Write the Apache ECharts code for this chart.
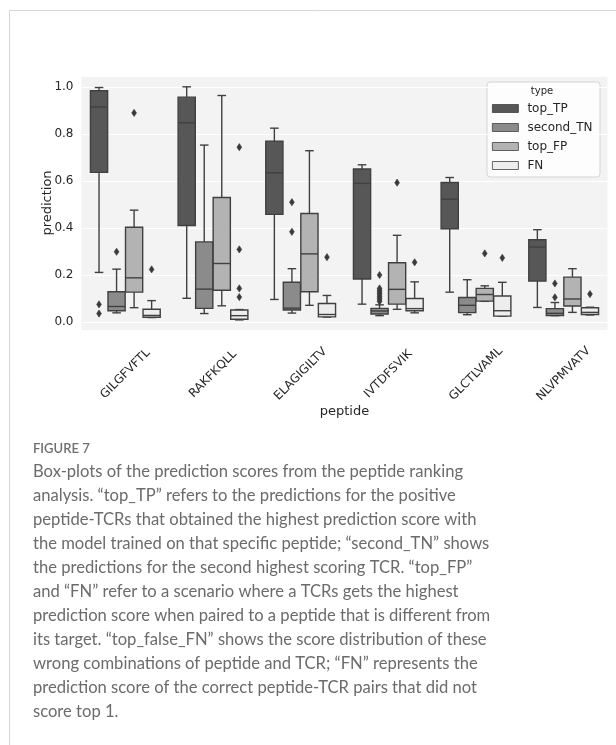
<!DOCTYPE html>
<html>
<head>
<meta charset="utf-8">
<title>Peptide ranking box-plots</title>
<script src="https://cdn.jsdelivr.net/npm/echarts@6/dist/echarts.min.js"></script>
<style>
  html, body { margin: 0; padding: 0; background: #ffffff; }
  #chart { width: 616px; height: 745px; }
</style>
</head>
<body>
<div id="chart"></div>
<script>
// Peptides on the x axis
const peptides = ['GILGFVFTL', 'RAKFKQLL', 'ELAGIGILTV', 'IVTDFSVIK', 'GLCTLVAML', 'NLVPMVATV'];

// Score types (hue), in drawing order
const types = ['top_TP', 'second_TN', 'top_FP', 'FN'];

// Box summaries per peptide: [lower whisker, Q1, median, Q3, upper whisker]
const topTP = [
  [0.210, 0.636, 0.914, 0.983, 0.997],
  [0.100, 0.410, 0.847, 0.956, 1.000],
  [0.095, 0.457, 0.634, 0.769, 0.824],
  [0.075, 0.182, 0.589, 0.650, 0.668],
  [0.126, 0.396, 0.522, 0.593, 0.614],
  [0.061, 0.173, 0.318, 0.349, 0.392]
];
const secondTN = [
  [0.038, 0.047, 0.065, 0.128, 0.224],
  [0.035, 0.057, 0.139, 0.340, 0.752],
  [0.037, 0.050, 0.058, 0.168, 0.226],
  [0.026, 0.033, 0.046, 0.057, 0.072],
  [0.030, 0.039, 0.070, 0.103, 0.179],
  [0.026, 0.027, 0.036, 0.056, 0.082]
];
const topFP = [
  [0.060, 0.126, 0.187, 0.402, 0.475],
  [0.068, 0.134, 0.248, 0.529, 0.963],
  [0.070, 0.128, 0.289, 0.461, 0.728],
  [0.053, 0.075, 0.138, 0.251, 0.368],
  [0.087, 0.088, 0.116, 0.142, 0.153],
  [0.040, 0.067, 0.097, 0.190, 0.226]
];
const fnBoxes = [
  [0.018, 0.019, 0.027, 0.053, 0.090],
  [0.008, 0.011, 0.026, 0.050, 0.052],
  [0.020, 0.021, 0.031, 0.078, 0.112],
  [0.038, 0.047, 0.056, 0.099, 0.170],
  [0.024, 0.024, 0.047, 0.110, 0.168],
  [0.029, 0.031, 0.040, 0.060, 0.062]
];

// Outliers per type: [peptide index, prediction]
const topTPOutliers = [[0, 0.074], [0, 0.035]];
const secondTNOutliers = [
  [0, 0.298],
  [2, 0.509], [2, 0.383],
  [3, 0.199], [3, 0.142], [3, 0.135], [3, 0.128], [3, 0.121], [3, 0.114],
  [3, 0.107], [3, 0.100], [3, 0.093], [3, 0.086],
  [5, 0.163], [5, 0.104]
];
const topFPOutliers = [[0, 0.889], [3, 0.592], [4, 0.291]];
const fnOutliers = [
  [0, 0.223],
  [1, 0.743], [1, 0.308], [1, 0.142], [1, 0.105],
  [2, 0.275],
  [3, 0.253],
  [4, 0.272],
  [5, 0.118]
];

// Y ticks shown on the axis
const yTicks = [0.0, 0.2, 0.4, 0.6, 0.8, 1.0];

// Caption
const figureLabel = 'FIGURE 7';
const captionLines = [
  'Box-plots of the prediction scores from the peptide ranking',
  'analysis. \u201ctop_TP\u201d refers to the predictions for the positive',
  'peptide-TCRs that obtained the highest prediction score with',
  'the model trained on that specific peptide; \u201csecond_TN\u201d shows',
  'the predictions for the second highest scoring TCR. \u201ctop_FP\u201d',
  'and \u201cFN\u201d refer to a scenario where a TCRs gets the highest',
  'prediction score when paired to a peptide that is different from',
  'its target. \u201ctop_false_FN\u201d shows the score distribution of these',
  'wrong combinations of peptide and TCR; \u201cFN\u201d represents the',
  'prediction score of the correct peptide-TCR pairs that did not',
  'score top 1.'
];

// ---- styling ----
const fills = ['#575757', '#8b8b8b', '#b3b3b3', '#ededed'];
const EDGE = '#404040';
const LW = 1.4;
const GROUP_WIDTH = 0.8;
const TEXT = '#262626';
const FONT = 'DejaVu Sans';

function boxRenderer(k) {
  return function (params, api) {
    const cat = api.value(0);
    const band = api.size([1, 0])[0];
    const slot = band * GROUP_WIDTH / types.length;
    const w = slot * 0.98;
    const cx = api.coord([cat, 0])[0] + (k - (types.length - 1) / 2) * slot;
    const py = i => api.coord([cat, api.value(i)])[1];
    const lo = py(1), q1 = py(2), md = py(3), q3 = py(4), hi = py(5);
    const ln = (x1, y1, x2, y2) => ({
      type: 'line', shape: { x1, y1, x2, y2 },
      style: { stroke: EDGE, lineWidth: LW }
    });
    return {
      type: 'group',
      children: [
        ln(cx, q3, cx, hi),
        ln(cx, q1, cx, lo),
        ln(cx - w / 4, hi, cx + w / 4, hi),
        ln(cx - w / 4, lo, cx + w / 4, lo),
        {
          type: 'rect',
          shape: { x: cx - w / 2, y: q3, width: w, height: q1 - q3 },
          style: { fill: fills[k], stroke: EDGE, lineWidth: LW }
        },
        ln(cx - w / 2, md, cx + w / 2, md)
      ]
    };
  };
}

function outlierRenderer(k) {
  return function (params, api) {
    const cat = api.value(0);
    const band = api.size([1, 0])[0];
    const slot = band * GROUP_WIDTH / types.length;
    const p = api.coord([cat, api.value(1)]);
    const cx = p[0] + (k - (types.length - 1) / 2) * slot;
    const cy = p[1];
    return {
      type: 'polygon',
      shape: { points: [[cx, cy - 3.6], [cx + 2.4, cy], [cx, cy + 3.6], [cx - 2.4, cy]] },
      style: { fill: '#3a3a3a', stroke: '#3a3a3a', lineWidth: 0.6 }
    };
  };
}

const boxData = [topTP, secondTN, topFP, fnBoxes];
const outlierData = [topTPOutliers, secondTNOutliers, topFPOutliers, fnOutliers];

const series = [];
types.forEach((name, k) => {
  series.push({
    name: name,
    type: 'custom',
    renderItem: boxRenderer(k),
    itemStyle: { color: fills[k], borderColor: EDGE, borderWidth: 1 },
    encode: { x: 0, y: [1, 2, 3, 4, 5] },
    data: boxData[k].map((b, i) => [i].concat(b)),
    silent: true
  });
});
types.forEach((name, k) => {
  series.push({
    name: name + ' outliers',
    type: 'custom',
    renderItem: outlierRenderer(k),
    encode: { x: 0, y: 1 },
    data: outlierData[k],
    silent: true
  });
});

const chart = echarts.init(document.getElementById('chart'), null, { renderer: 'canvas' });

const captionGraphics = [
  {
    type: 'text', left: 33, top: 442,
    style: { text: figureLabel, font: '600 13px Lato', fill: '#6f6f6f' }
  }
].concat(captionLines.map((line, i) => ({
  type: 'text', left: 33, top: 463 + i * 24,
  style: { text: line, font: '16.6px Lato', fill: '#6b6b6b' }
})));

chart.setOption({
  animation: false,
  backgroundColor: '#ffffff',
  grid: {
    left: 81.5, right: 8.5, top: 76, bottom: 415,
    show: true, backgroundColor: '#f3f3f3', borderWidth: 0
  },
  xAxis: {
    type: 'category',
    data: peptides,
    boundaryGap: true,
    axisLine: { show: false },
    axisTick: { show: false },
    splitLine: { show: false },
    axisLabel: {
      rotate: 45, interval: 0, margin: 44,
      align: 'center', verticalAlign: 'middle',
      fontFamily: FONT, fontSize: 12, color: TEXT
    },
    name: 'peptide',
    nameLocation: 'middle',
    nameGap: 75,
    nameMoveOverlap: false,
    nameTextStyle: { fontFamily: FONT, fontSize: 13, color: TEXT }
  },
  yAxis: {
    type: 'value',
    min: -0.035, max: 1.046,
    splitNumber: 5,
    axisLine: { show: false },
    axisTick: { show: false },
    splitLine: { show: true, lineStyle: { color: '#ffffff', width: 1.2 } },
    axisLabel: {
      margin: 8, fontFamily: FONT, fontSize: 12, color: TEXT,
      showMinLabel: false, showMaxLabel: false,
      formatter: v => {
        const t = yTicks.find(y => Math.abs(y - v) < 1e-6);
        return t === undefined ? '' : t.toFixed(1);
      }
    },
    name: 'prediction',
    nameLocation: 'middle',
    nameGap: 27,
    nameMoveOverlap: false,
    nameTextStyle: { fontFamily: FONT, fontSize: 13, color: TEXT }
  },
  legend: {
    data: types,
    orient: 'vertical',
    left: 487, top: 94,
    icon: 'rect',
    itemWidth: 26, itemHeight: 8,
    itemGap: 0,
    itemStyle: { borderColor: EDGE, borderWidth: 0.8 },
    textStyle: {
      fontFamily: FONT, fontSize: 12, color: TEXT,
      lineHeight: 19, padding: [0, 0, 0, 4]
    },
    selectedMode: false
  },
  graphic: [
    {
      type: 'rect', z: -1,
      shape: { x: 9.5, y: 10.5, width: 800, height: 900 },
      style: { fill: null, stroke: '#d6d6d6', lineWidth: 1 },
      silent: true
    },
    {
      type: 'rect', z: 0,
      shape: { x: 487, y: 82, width: 113, height: 95, r: 3 },
      style: { fill: 'rgba(255,255,255,0.8)', stroke: '#d4d4d4', lineWidth: 1 },
      silent: true
    },
    {
      type: 'text', z: 1,
      style: {
        x: 542, y: 91, text: 'type', font: '10px "DejaVu Sans"',
        fill: TEXT, align: 'center', verticalAlign: 'middle'
      },
      silent: true
    }
  ].concat(captionGraphics),
  series: series
});
</script>
</body>
</html>
